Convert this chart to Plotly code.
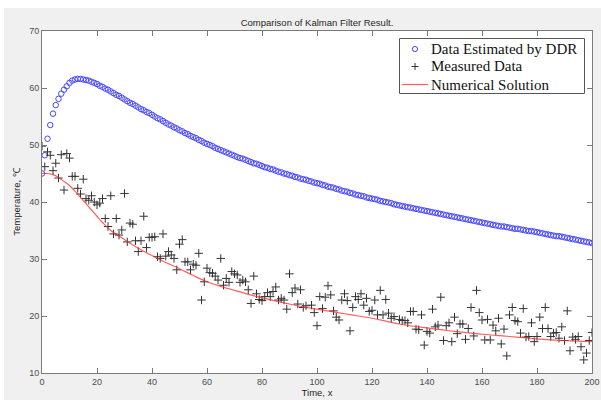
import plotly.graph_objects as go

# ---------------- data ----------------
time_ddr = list(range(0, 201))
temp_ddr = [45.0, 48.2, 51.1, 53.5, 55.5, 57.0, 58.1, 59.0, 59.7, 60.3, 60.9, 61.3, 61.5, 61.6, 61.6, 61.5, 61.4, 61.3, 61.1, 60.9, 60.7,
            60.4, 60.2, 59.9, 59.7, 59.4, 59.1, 58.8, 58.6, 58.3, 58.0,
            57.7, 57.4, 57.2, 56.9, 56.6, 56.3, 56.1, 55.8, 55.6, 55.3,
            55.0, 54.7, 54.5, 54.2, 53.9, 53.6, 53.4, 53.1, 52.9, 52.6,
            52.4, 52.1, 51.9, 51.6, 51.4, 51.2, 50.9, 50.7, 50.4, 50.2,
            50.0, 49.8, 49.5, 49.3, 49.1, 48.9, 48.7, 48.5, 48.3, 48.1,
            47.9, 47.7, 47.6, 47.4, 47.2, 47.0, 46.8, 46.7, 46.5, 46.3,
            46.1, 46.0, 45.8, 45.7, 45.5, 45.3, 45.2, 45.0, 44.9, 44.7,
            44.6, 44.4, 44.3, 44.1, 44.0, 43.9, 43.7, 43.6, 43.4, 43.3,
            43.2, 43.0, 42.9, 42.7, 42.6, 42.5, 42.3, 42.2, 42.0, 41.9,
            41.8, 41.6, 41.5, 41.3, 41.2, 41.1, 41.0, 40.8, 40.7, 40.6,
            40.5, 40.4, 40.2, 40.1, 40.0, 39.9, 39.8, 39.6, 39.5, 39.4,
            39.3, 39.2, 39.1, 39.0, 38.9, 38.8, 38.7, 38.6, 38.5, 38.4,
            38.3, 38.2, 38.1, 38.0, 37.9, 37.8, 37.7, 37.6, 37.5, 37.4,
            37.3, 37.2, 37.1, 37.0, 36.9, 36.8, 36.7, 36.6, 36.5, 36.4,
            36.3, 36.2, 36.1, 36.0, 35.9, 35.8, 35.7, 35.7, 35.6, 35.5,
            35.4, 35.3, 35.3, 35.2, 35.1, 35.0, 34.9, 34.9, 34.8, 34.7,
            34.6, 34.5, 34.4, 34.3, 34.2, 34.1, 34.0, 34.0, 33.9, 33.8,
            33.7, 33.6, 33.5, 33.4, 33.3, 33.2, 33.1, 33.0, 32.9, 32.8]

time_meas = [0, 1, 2, 3, 4, 5, 6, 7, 8, 9, 10, 11, 12, 13, 14, 15, 16, 17, 18, 19,
             20, 21, 22, 23, 24, 25, 26, 27, 28, 29, 30, 31, 32, 33, 34, 35, 36, 37, 38, 39,
             40, 41, 42, 43, 44, 45, 46, 47, 48, 49, 50, 51, 52, 53, 54, 55, 56, 57, 58, 59,
             60, 61, 62, 63, 64, 65, 66, 67, 68, 69, 70, 71, 72, 73, 74, 75, 76, 77, 78, 79,
             80, 81, 82, 83, 84, 85, 86, 87, 88, 89, 90, 91, 92, 93, 94, 95, 96, 98, 99,
             100, 101, 102, 103, 104, 105, 106, 107, 108, 109, 110, 111, 112, 113, 114, 115, 116, 117, 118, 119,
             120, 121, 122, 123, 124, 125, 126, 127, 128, 130, 131, 132, 133, 134, 135, 136, 137, 138, 139,
             140, 141, 142, 143, 144, 145, 146, 147, 148, 149, 150, 151, 152, 153, 154, 155, 156, 157, 158, 159,
             160, 161, 162, 163, 164, 165, 166, 167, 168, 169, 170, 171, 172, 173, 174, 175, 176, 177, 178, 179,
             180, 181, 182, 183, 184, 185, 186, 187, 188, 189, 190, 191, 192, 193, 194, 195, 196, 197, 198, 199, 200]
temp_meas = [49.8, 46.2, 48.8, 48.2, 45.5, 46.8, 44.2, 48.3, 42.1, 48.5, 47.7, 44.5, 44.5, 42.4, 41.4, 44.0, 40.6, 40.3, 41.1, 40.0,
             39.5, 39.8, 40.6, 37.1, 35.7, 41.1, 34.4, 37.1, 34.2, 35.1, 41.5, 33.0, 36.3, 36.1, 33.2, 31.3, 33.2, 37.5, 32.0, 33.8,
             33.8, 33.9, 30.4, 30.1, 34.4, 30.5, 31.3, 30.7, 30.1, 28.1, 32.6, 33.4, 29.5, 29.5, 28.1, 29.1, 28.9, 31.0, 22.8, 26.0,
             28.4, 27.6, 27.5, 27.0, 26.3, 30.1, 25.4, 26.6, 25.9, 27.8, 27.4, 27.2, 25.9, 26.3, 26.0, 24.6, 22.2, 27.0, 23.9, 22.9,
             22.7, 23.4, 24.1, 23.4, 24.3, 25.1, 22.8, 23.1, 22.8, 21.2, 27.4, 24.1, 24.9, 22.1, 24.6, 21.5, 21.8, 21.9, 20.6,
             18.3, 23.4, 21.3, 23.3, 25.3, 23.7, 20.9, 19.8, 19.3, 22.8, 23.9, 22.7, 17.4, 21.5, 23.4, 22.9, 23.9, 21.9, 23.1, 20.8,
             21.0, 22.8, 20.2, 24.5, 20.2, 22.9, 20.5, 19.6, 19.9, 19.4, 19.2, 19.2, 18.8, 20.8, 20.8, 17.7, 17.6, 20.2, 14.9,
             17.3, 17.0, 21.2, 18.1, 18.4, 23.3, 15.7, 18.3, 18.8, 15.5, 19.8, 16.9, 18.6, 18.6, 15.9, 17.8, 21.5, 16.5, 24.5, 20.6,
             19.3, 15.8, 19.4, 15.8, 18.4, 17.4, 19.6, 15.1, 17.7, 13.0, 20.2, 21.5, 19.2, 19.0, 17.0, 21.3, 16.3, 16.4, 18.8, 15.5,
             16.4, 19.8, 17.8, 21.5, 17.8, 16.4, 17.0, 17.1, 16.1, 18.1, 15.7, 20.9, 13.9, 16.3, 15.9, 16.4, 14.6, 12.3, 13.5, 15.7, 17.1]

time_num = [0, 2, 4, 6, 8, 10, 12, 14, 16, 18, 20, 22, 25, 30, 35, 40, 45, 50, 55, 60, 65, 70, 75, 80, 85, 90, 95,
            100, 105, 110, 115, 120, 125, 130, 135, 140, 145, 150, 155, 160, 165, 170, 175, 180, 185, 190, 195, 200]
temp_num = [45.0, 45.0, 44.8, 44.3, 43.6, 42.9, 41.9, 40.8, 39.7, 38.6, 37.5, 36.4, 35.0, 33.4, 31.9, 30.6, 29.4, 28.3, 27.1, 26.0,
            25.2, 24.5, 23.8, 23.2, 22.6, 22.1, 21.6, 21.2, 20.8, 20.4, 20.0, 19.6, 19.1, 18.6, 18.2, 17.9, 17.6, 17.3, 17.05,
            16.8, 16.6, 16.4, 16.2, 16.0, 15.8, 15.7, 15.6, 15.5]

x_ticks = [0, 20, 40, 60, 80, 100, 120, 140, 160, 180, 200]
y_ticks = [10, 20, 30, 40, 50, 60, 70]
legend_labels = ["Data Estimated by DDR", "Measured Data", "Numerical Solution"]

BLUE = "rgb(70,70,255)"
BLACK = "#333333"
RED = "rgba(255,40,40,0.75)"

# ---------------- figure ----------------
fig = go.Figure()
fig.add_trace(go.Scatter(
    x=time_ddr, y=temp_ddr, mode="markers", name=legend_labels[0],
    marker=dict(symbol="circle-open", size=5.5, color=BLUE, line=dict(width=1))))
fig.add_trace(go.Scatter(
    x=time_meas, y=temp_meas, mode="markers", name=legend_labels[1],
    marker=dict(symbol="cross-thin", size=6, color=BLACK, line=dict(width=1, color=BLACK))))
fig.add_trace(go.Scatter(
    x=time_num, y=temp_num, mode="lines", name=legend_labels[2],
    line=dict(color=RED, width=1.2, shape="spline")))

L, R, T, B = 42, 9, 31, 27
W, H = 601, 400
pw, ph = W - L - R, H - T - B


def px_x(p):
    return (p - L) / pw


def px_y(p):
    return 1 - (p - T) / ph


axis_common = dict(showline=True, linecolor="#7a7a7a", linewidth=1, mirror="ticks",
                   ticks="inside", ticklen=5, tickcolor="#7a7a7a", showgrid=False, zeroline=False,
                   automargin=False,
                   tickfont=dict(family="Liberation Sans, Arial", size=9, color="#4d4d4d"))

# legend drawn by hand (box, symbols, labels)
lg_x0, lg_x1, lg_y0, lg_y1 = 399.5, 584.5, 38.5, 93.5
row_y = [49.0, 66.5, 84.5]
sym_x = 415.0
text_x = 429.0

shapes = [
    dict(type="rect", xref="paper", yref="paper", x0=-L / pw, x1=1 + R / pw,
         y0=1 + (T - 8) / ph, y1=1 + T / ph, fillcolor="white", line=dict(width=0), layer="below"),
    dict(type="rect", xref="paper", yref="paper", x0=-L / pw, x1=-(L - 4) / pw,
         y0=-B / ph, y1=1 + T / ph, fillcolor="white", line=dict(width=0), layer="below"),
    dict(type="rect", xref="paper", yref="paper", x0=px_x(lg_x0), x1=px_x(lg_x1),
         y0=px_y(lg_y1), y1=px_y(lg_y0), fillcolor="white", line=dict(color="#555555", width=1), layer="above"),
    dict(type="circle", xref="paper", yref="paper", x0=px_x(sym_x - 2.6), x1=px_x(sym_x + 2.6),
         y0=px_y(row_y[0] + 2.6), y1=px_y(row_y[0] - 2.6), line=dict(color=BLUE, width=1), layer="above"),
    dict(type="line", xref="paper", yref="paper", x0=px_x(sym_x - 3.5), x1=px_x(sym_x + 3.5),
         y0=px_y(row_y[1]), y1=px_y(row_y[1]), line=dict(color=BLACK, width=1), layer="above"),
    dict(type="line", xref="paper", yref="paper", x0=px_x(sym_x), x1=px_x(sym_x),
         y0=px_y(row_y[1] - 3.5), y1=px_y(row_y[1] + 3.5), line=dict(color=BLACK, width=1), layer="above"),
    dict(type="line", xref="paper", yref="paper", x0=px_x(402), x1=px_x(428),
         y0=px_y(row_y[2]), y1=px_y(row_y[2]), line=dict(color=RED, width=1.2), layer="above"),
]

annotations = [
    dict(text=lab, xref="paper", yref="paper", x=px_x(text_x), y=px_y(ry), xanchor="left", yanchor="middle",
         showarrow=False, font=dict(family="Liberation Serif, Times New Roman", size=15, color="#111111"))
    for lab, ry in zip(legend_labels, row_y)
]

fig.update_layout(
    width=W, height=H,
    margin=dict(l=L, r=R, t=T, b=B, autoexpand=False),
    paper_bgcolor="#f0f0f0", plot_bgcolor="white",
    showlegend=False,
    hovermode=False,
    title=dict(text="Comparison of Kalman Filter Result.", x=(L + pw / 2) / W, xanchor="center",
               y=1 - 23 / H, yanchor="middle",
               font=dict(family="Liberation Sans, Arial", size=9.5, color="#262626")),
    xaxis=dict(range=[0, 200], tickvals=x_ticks,
               title=dict(text="Time, x", standoff=2,
                          font=dict(family="Liberation Sans, Arial", size=9.5, color="#262626")),
               **axis_common),
    yaxis=dict(range=[10, 70], tickvals=y_ticks,
               title=dict(text="Temperature, ℃", standoff=6,
                          font=dict(family="Liberation Sans, Arial", size=9.5, color="#262626")),
               **axis_common),
    shapes=shapes,
    annotations=annotations,
)

fig.write_html("out.html",
               config={"displayModeBar": False, "staticPlot": True},
               post_script="document.body.style.margin='0';document.body.style.padding='0';"
                           "document.body.style.overflow='hidden';")
